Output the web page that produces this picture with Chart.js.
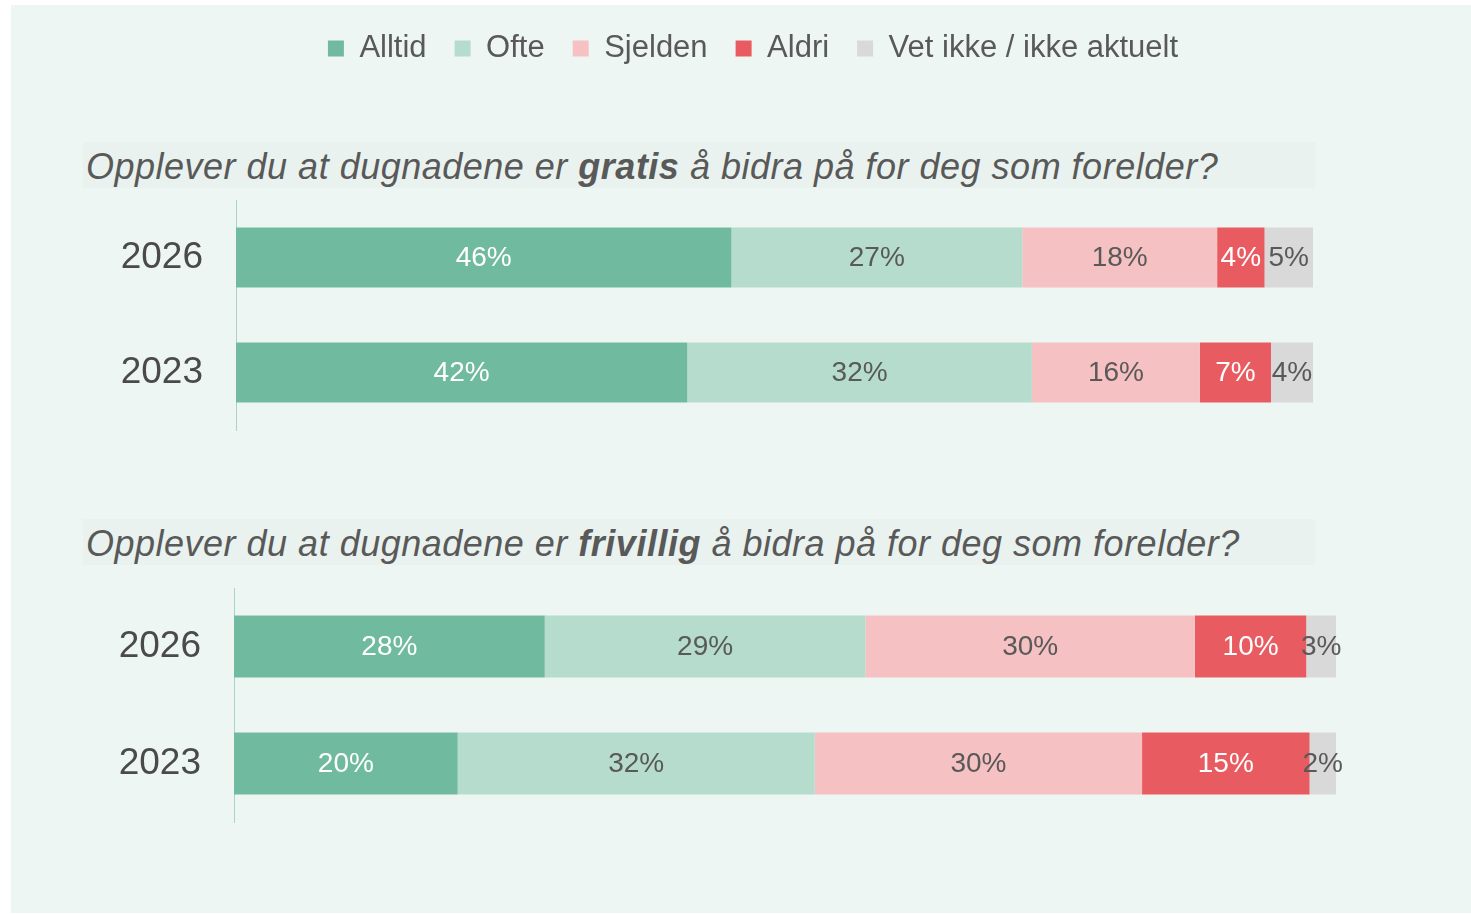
<!DOCTYPE html>
<html>
<head>
<meta charset="utf-8">
<script src="https://cdn.jsdelivr.net/npm/chart.js@4.4.1/dist/chart.umd.min.js"></script>
<style>
  html, body { margin: 0; padding: 0; background: #ffffff; overflow: hidden; }
  #page { position: relative; width: 1471px; height: 914px; }
  #bg { position: absolute; left: 11px; top: 5px; width: 1460px; height: 908px; background: #EEF6F3; }
  .qbox { position: absolute; left: 83px; width: 1232px; height: 46px; background: #E9F2EE;
          font-family: "Liberation Sans", Arial, sans-serif; font-style: italic; font-size: 36px;
          letter-spacing: 0.5px; color: #595959; line-height: 50px; padding-left: 3px;
          box-sizing: border-box; white-space: nowrap; overflow: visible; }
  .qbox b { font-weight: bold; }
  canvas { position: absolute; }
</style>
</head>
<body>
<div id="page">
  <div id="bg"></div>
  <div class="qbox" style="top:142px;">Opplever du at dugnadene er <b>gratis</b> å bidra på for deg som forelder?</div>
  <div class="qbox" style="top:519px;">Opplever du at dugnadene er <b>frivillig</b> å bidra på for deg som forelder?</div>
  <canvas id="c1" width="1436" height="490" style="left:35px; top:0px;"></canvas>
  <canvas id="c2" width="1436" height="474" style="left:35px; top:440px;"></canvas>
</div>
<script>
// ---- data ----
const years = ['2026', '2023'];
const seriesNames = ['Alltid', 'Ofte', 'Sjelden', 'Aldri', 'Vet ikke / ikke aktuelt'];
const seriesColors = ['#70BB9F', '#B5DCCD', '#F6C1C3', '#E85C61', '#D9D9D9'];
const labelColors = ['#FFFFFF', '#595959', '#595959', '#FFFFFF', '#595959'];

// "gratis" question (2026, 2023)
const gratisAlltid  = [46.0, 41.9];
const gratisOfte    = [27.0, 32.0];
const gratisSjelden = [18.1, 15.6];
const gratisAldri   = [4.4, 6.6];
const gratisVetIkke = [4.5, 3.9];

// "frivillig" question (2026, 2023)
const frivilligAlltid  = [28.2, 20.3];
const frivilligOfte    = [29.1, 32.4];
const frivilligSjelden = [29.9, 29.7];
const frivilligAldri   = [10.1, 15.2];
const frivilligVetIkke = [2.7, 2.4];

const FONT = '"Liberation Sans", Arial, sans-serif';

function makeDatasets(seriesValues, thickness) {
  return seriesValues.map((vals, i) => ({
    label: seriesNames[i],
    data: vals,
    backgroundColor: seriesColors[i],
    borderWidth: 0,
    barPercentage: thickness,
    categoryPercentage: 1.0,
    labelColor: labelColors[i]
  }));
}

const valueLabels = {
  id: 'valueLabels',
  afterDatasetsDraw(chart) {
    const ctx = chart.ctx;
    ctx.save();
    ctx.font = '28px ' + FONT;
    ctx.textAlign = 'center';
    ctx.textBaseline = 'middle';
    chart.data.datasets.forEach((ds, di) => {
      const meta = chart.getDatasetMeta(di);
      meta.data.forEach((el, i) => {
        const v = ds.data[i];
        const cx = (el.x + el.base) / 2;
        ctx.fillStyle = ds.labelColor;
        ctx.fillText(Math.round(v) + '%', cx, el.y + 1);
      });
    });
    ctx.restore();
  }
};

const legendSpacer = {
  id: 'legendSpacer',
  beforeLayout(chart) {
    const lg = chart.legend;
    if (lg && !lg._patched) {
      const fit = lg.fit;
      lg.fit = function () { fit.call(this); this.height = 195; };
      lg._patched = true;
    }
  }
};

function makeOptions(yWidth, rightWidth, padding, showLegend) {
  return {
    responsive: false,
    animation: false,
    indexAxis: 'y',
    layout: { padding: padding },
    scales: {
      x: { stacked: true, min: 0, max: 100, display: false },
      y: {
        stacked: true,
        position: 'left',
        grid: { display: false, drawTicks: false },
        border: { display: true, color: '#A9D4C3', width: 1 },
        ticks: { color: '#4A4A4A', font: { family: FONT, size: 37 }, padding: 33 },
        afterFit(scale) { scale.width = yWidth; }
      },
      yRight: {
        position: 'right',
        display: true,
        grid: { display: false, drawTicks: false },
        border: { display: false },
        ticks: { display: false },
        afterFit(scale) { scale.width = rightWidth; }
      }
    },
    plugins: {
      legend: {
        display: showLegend,
        position: 'top',
        align: 'center',
        labels: {
          boxWidth: 16,
          boxHeight: 16,
          padding: 28,
          color: '#595959',
          font: { family: FONT, size: 31 }
        }
      },
      tooltip: { enabled: false },
      title: { display: false }
    }
  };
}

new Chart(document.getElementById('c1'), {
  type: 'bar',
  data: {
    labels: years,
    datasets: makeDatasets([gratisAlltid, gratisOfte, gratisSjelden, gratisAldri, gratisVetIkke], 0.52)
  },
  options: makeOptions(201, 158, { top: 5, bottom: 60, left: 0, right: 0 }, true),
  plugins: [valueLabels, legendSpacer]
});

new Chart(document.getElementById('c2'), {
  type: 'bar',
  data: {
    labels: years,
    datasets: makeDatasets([frivilligAlltid, frivilligOfte, frivilligSjelden, frivilligAldri, frivilligVetIkke], 0.53)
  },
  options: makeOptions(199, 135, { top: 148, bottom: 92, left: 0, right: 0 }, false),
  plugins: [valueLabels]
});
</script>
</body>
</html>
